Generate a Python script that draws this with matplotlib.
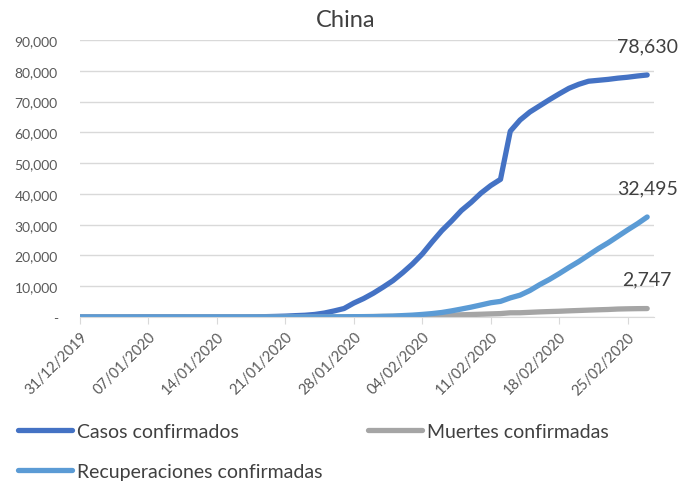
import numpy as np
import pandas as pd
import matplotlib
matplotlib.use("Agg")
import matplotlib.pyplot as plt

plt.rcParams['font.family'] = ['Lato', 'DejaVu Sans']

# daily values, 31/12/2019 .. 27/02/2020
fechas = pd.date_range("2019-12-31", "2020-02-27", freq="D")

casos = [27, 27, 27, 27, 27, 27, 44, 59, 59, 59, 59,
         41, 41, 41, 41, 41, 41, 45, 62, 121, 198,
         291, 440, 571, 830, 1297, 1985, 2761, 4537, 5997, 7736,
         9720, 11821, 14411, 17238, 20471, 24363, 28060, 31211, 34598, 37251,
         40235, 42708, 44730, 60360, 64000, 66600, 68600, 70600, 72500, 74300,
         75600, 76600, 76900, 77200, 77600, 77900, 78300, 78630]

muertes = [0, 0, 0, 0, 0, 0, 0, 0, 0, 0, 0,
           1, 1, 1, 1, 1, 1, 2, 2, 3, 3,
           6, 9, 17, 25, 41, 56, 80, 106, 132, 170,
           213, 259, 304, 361, 425, 490, 563, 637, 722, 811,
           908, 1016, 1113, 1368, 1381, 1524, 1666, 1772, 1870, 2006,
           2121, 2239, 2348, 2445, 2595, 2666, 2718, 2747]

recuperados = [0, 0, 0, 0, 0, 0, 0, 0, 0, 0, 0,
               0, 0, 0, 0, 0, 0, 0, 0, 0, 0,
               0, 28, 30, 36, 39, 49, 58, 101, 120, 135,
               214, 275, 463, 614, 843, 1115, 1476, 1998, 2595, 3218,
               3917, 4635, 5079, 6213, 7100, 8600, 10500, 12200, 14100, 16100,
               18000, 20100, 22200, 24100, 26200, 28300, 30300, 32495]

series = [
    ("Casos confirmados", casos, "#4472C4"),
    ("Muertes confirmadas", muertes, "#A5A5A5"),
    ("Recuperaciones confirmadas", recuperados, "#5B9BD5"),
]

tick_dias = list(range(0, 59, 7))
tick_labels = [fechas[i].strftime("%d/%m/%Y") for i in tick_dias]
yticks = list(range(0, 90001, 10000))

fig = plt.figure(figsize=(6.94, 4.85), dpi=100)
ax = fig.add_axes([0.1153, 0.3443, 0.8271, 0.5712])

x = np.arange(len(fechas))
lines = {}
for name, vals, color in series:
    ln, = ax.plot(x, vals, color=color, lw=3.8, solid_capstyle="round", label=name)
    lines[name] = ln
    ax.annotate(f"{vals[-1]:,}", (x[-1], vals[-1]), xytext=(0, 15), textcoords="offset points",
                ha="center", va="bottom", fontsize=14, color="#404040")

ax.set_xlim(0, 58.7)
ax.set_ylim(0, 90000)
ax.set_yticks(yticks)
ax.set_yticklabels(["-"] + [f"{v:,}" for v in yticks[1:]])
ax.set_xticks(tick_dias)
ax.set_xticklabels(tick_labels, rotation=45, ha="right", va="top", rotation_mode="anchor")

ax.grid(axis="y", color="#D9D9D9", lw=1)
ax.set_axisbelow(True)
for s in ["top", "right", "left"]:
    ax.spines[s].set_visible(False)
ax.spines["bottom"].set_color("#D9D9D9")
ax.tick_params(axis="y", length=0, pad=16, labelsize=10, labelcolor="#595959")
ax.tick_params(axis="x", length=5, color="#D9D9D9", pad=4, labelsize=10.5, labelcolor="#595959")

fig.text(0.4986, 0.957, "China", ha="center", va="center", fontsize=17, color="#404040")

hs = [lines["Casos confirmados"], lines["Recuperaciones confirmadas"], lines["Muertes confirmadas"]]
fig.legend(hs, [h.get_label() for h in hs], loc="upper left", bbox_to_anchor=(0.026, 0.126),
           ncol=2, frameon=False, fontsize=14, handlelength=2.8, handletextpad=0.25,
           columnspacing=2.3, labelspacing=1.2, borderpad=0, borderaxespad=0,
           labelcolor="#404040")

fig.savefig("out.png", dpi=100)
